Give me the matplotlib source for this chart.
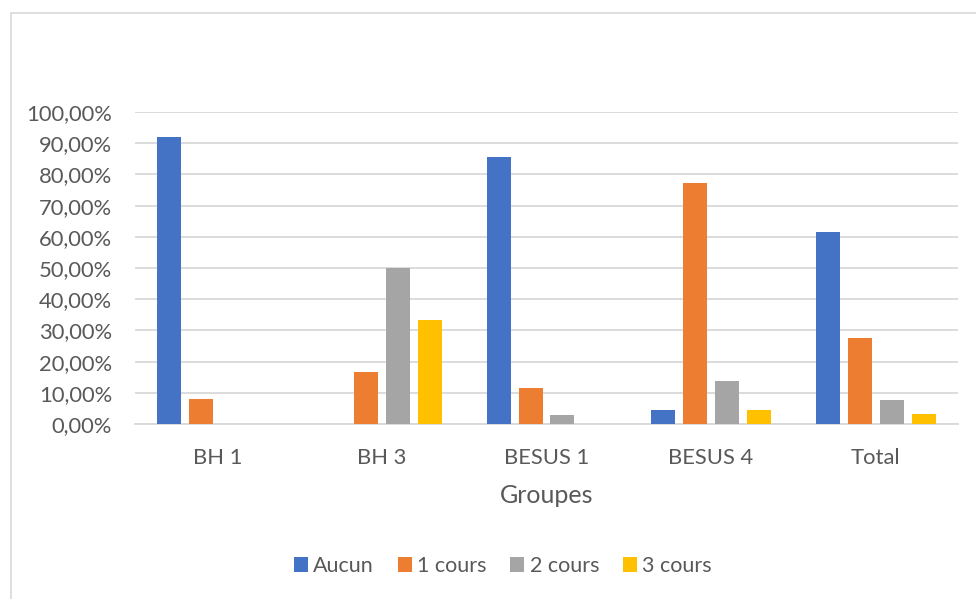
import numpy as np
import matplotlib
matplotlib.use("Agg")
import matplotlib.pyplot as plt
from matplotlib.patches import Rectangle
from matplotlib.ticker import FuncFormatter

groups = ["BH 1", "BH 3", "BESUS 1", "BESUS 4", "Total"]
series = ["Aucun", "1 cours", "2 cours", "3 cours"]
aucun = [91.89, 0.0, 85.71, 4.55, 61.54]
un_cours = [8.11, 16.67, 11.43, 77.27, 27.47]
deux_cours = [0.0, 50.0, 2.86, 13.64, 7.69]
trois_cours = [0.0, 33.33, 0.0, 4.55, 3.30]
colors = ["#4472C4", "#ED7D31", "#A5A5A5", "#FFC000"]

plt.rcParams["font.family"] = ["Lato", "DejaVu Sans"]
text_col = "#595959"
grid_col = "#D9D9D9"

W, H = 976, 599
fig = plt.figure(figsize=(W / 100, H / 100), dpi=100)

# chart frame (runs off the right/bottom edge like the source)
fig.patches.append(Rectangle((11 / W, -0.1), 1.2, 1 - 13 / H + 0.1, transform=fig.transFigure,
                             fill=False, edgecolor=grid_col, linewidth=1.2))

ax = fig.add_axes([135 / W, 1 - 424 / H, (958 - 135) / W, (424 - 112) / H])

x = np.arange(len(groups))
bar_w = 0.146
step = 0.194
for i, (name, vals) in enumerate(zip(series, [aucun, un_cours, deux_cours, trois_cours])):
    ax.bar(x + (i - 1.5) * step, np.array(vals) / 100, width=bar_w, color=colors[i], label=name, zorder=3)

ax.set_xlim(-0.5, len(groups) - 0.5)
ax.set_ylim(0, 1)
ax.set_yticks(np.arange(0, 1.01, 0.1))
ax.yaxis.set_major_formatter(FuncFormatter(lambda v, p: f"{v * 100:.2f}%".replace(".", ",")))
ax.set_xticks(x)
ax.set_xticklabels(groups)
ax.grid(axis="y", color=grid_col, linewidth=1.3, zorder=0)
for s in ["top", "right", "left"]:
    ax.spines[s].set_visible(False)
ax.spines["bottom"].set_color(grid_col)
ax.spines["bottom"].set_linewidth(1.3)
ax.tick_params(axis="both", length=0, labelsize=15.8, colors=text_col)
ax.tick_params(axis="y", pad=16.5)
ax.tick_params(axis="x", pad=17)
ax.set_xlabel("Groupes", fontsize=18, color=text_col, labelpad=12)

fig.legend(loc="center", bbox_to_anchor=(503 / W, 1 - 566 / H), ncol=4, frameon=False,
           fontsize=15.5, labelcolor=text_col, handlelength=0.65, handleheight=0.65,
           handletextpad=0.25, columnspacing=1.1)

fig.savefig("out.png", dpi=100)
